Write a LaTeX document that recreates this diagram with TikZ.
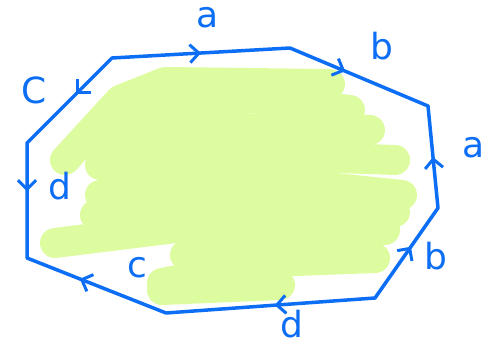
\documentclass[tikz,border=0pt]{standalone}
\usepackage{fontspec}
\newfontfamily\penfont{DejaVu Sans}
\usetikzlibrary{arrows.meta,decorations.markings}
\definecolor{penblue}{RGB}{12,110,245}
\definecolor{lime}{RGB}{221,252,160}
\begin{document}
\begin{tikzpicture}[x=1pt,y=-1pt,
  edge/.style={draw=penblue,line width=3.5pt,line join=round,line cap=round},
  mk/.style={postaction={decorate,decoration={markings,
     mark=at position #1 with {\arrow[penblue,line width=3pt]{Straight Barb[length=9pt,width=18pt]}}}}},
  scrib/.style={draw=lime,line width=30pt,line cap=round,line join=round},
  lbl/.style={text=penblue,font=\penfont\fontsize{36}{36}\selectfont,inner sep=0pt}]
\useasboundingbox (0,0) rectangle (496,350);
% green scribble
\draw[scrib] (65,160) -- (120,100) -- (165,82) -- (330,84);
\draw[scrib] (115,118) -- (250,98) -- (350,110);
\draw[scrib] (105,140) -- (230,128) -- (370,130);
\draw[scrib] (100,165) -- (250,155) -- (395,160);
\draw[scrib] (100,195) -- (260,180) -- (402,195);
\draw[scrib] (95,215) -- (250,210) -- (395,212);
\draw[scrib] (55,243) -- (200,225) -- (385,230);
\draw[scrib] (162,283) -- (270,262) -- (375,258);
\draw[scrib] (185,255) -- (250,245) -- (360,245);
\draw[scrib] (162,290) -- (280,285);
% vertices
\coordinate (TL) at (112,58);
\coordinate (T) at (290,48);
\coordinate (RT) at (428,106);
\coordinate (R) at (438,208);
\coordinate (BR) at (375,298);
\coordinate (B) at (166,313);
\coordinate (BL) at (27,258);
\coordinate (L) at (27,143);
\draw[edge] (TL) -- (T) -- (RT) -- (R) -- (BR) -- (B) -- (BL) -- (L) -- cycle;
% arrows
\path[mk=0.5] (TL) -- (T);
\path[mk=0.4] (T) -- (RT);
\path[mk=0.5] (R) -- (RT);
\path[mk=0.57] (BR) -- (R);
\path[mk=0.48] (BR) -- (B);
\path[mk=0.62] (B) -- (BL);
\path[mk=0.42] (L) -- (BL);
\path[mk=0.42] (TL) -- (L);
% labels
\node[lbl] (la1) at (208,18) {a};
\node[lbl] (lb1) at (382,46) {b};
\node[lbl] (la2) at (474,148) {a};
\node[lbl] (lb2) at (436,256) {b};
\node[lbl] (ld1) at (292,324) {d};
\node[lbl] (lc1) at (137,268) {c};
\node[lbl] (ld2) at (60,186) {d};
\node[lbl] (lc2) at (34,90) {C};
\end{tikzpicture}
\end{document}
